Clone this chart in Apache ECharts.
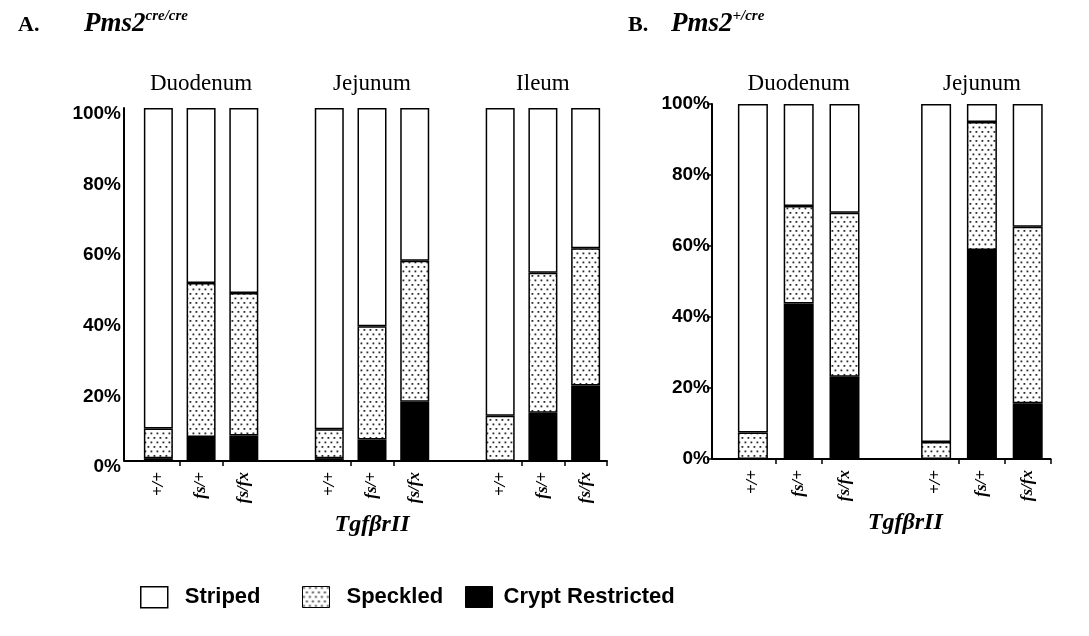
<!DOCTYPE html>
<html>
<head>
<meta charset="utf-8">
<script src="https://cdn.jsdelivr.net/npm/echarts@6/dist/echarts.min.js"></script>
<style>
  html, body { margin: 0; padding: 0; background: #fff; }
  #chart { width: 1089px; height: 636px; }
</style>
</head>
<body>
<div id="chart"></div>
<script>
// Tgfbr II genotypes per intestinal segment; '' marks the spacer between segments
const genotypesA = ['+/+', 'fs/+', 'fs/fx', '', '+/+', 'fs/+', 'fs/fx', '', '+/+', 'fs/+', 'fs/fx'];
const genotypesB = ['+/+', 'fs/+', 'fs/fx', '', '+/+', 'fs/+', 'fs/fx'];
const segmentsA = ['Duodenum', 'Jejunum', 'Ileum'];
const segmentsB = ['Duodenum', 'Jejunum'];

// Percent of crypts per phenotype, Pms2 cre/cre
const cryptA    = [0.8, 6.8, 7.2, '-', 0.8, 6.1, 16.8, '-', 0, 13.7, 21.4];
const speckledA = [8.4, 43.6, 40.4, '-', 8.2, 32.1, 39.9, '-', 12.8, 39.6, 38.9];
const stripedA  = [90.8, 49.6, 52.4, '-', 91.0, 61.8, 43.3, '-', 87.2, 46.7, 39.7];

// Percent of crypts per phenotype, Pms2 +/cre
const cryptB    = [0, 43.8, 23.2, '-', 0, 58.9, 15.7];
const speckledB = [7.5, 27.5, 46.2, '-', 4.8, 36.0, 49.7];
const stripedB  = [92.5, 28.7, 30.6, '-', 95.2, 5.1, 34.6];

const phenotypes = ['Striped', 'Speckled', 'Crypt Restricted'];

const yTicks = { min: 0, max: 100, interval: 20 };

const SERIF = 'Liberation Serif';
const SANS = 'Liberation Sans';

// dotted fill used for the "Speckled" phenotype
function speckle() {
  const c = document.createElement('canvas');
  c.width = 6; c.height = 9;
  const g = c.getContext('2d');
  g.fillStyle = '#fff';
  g.fillRect(0, 0, 6, 9);
  g.fillStyle = '#2a2a2a';
  g.fillRect(0.5, 0.5, 1.8, 1.8);
  g.fillRect(3.5, 5, 1.8, 1.8);
  return { image: c, repeat: 'repeat' };
}
const dots = speckle();

const fills = {
  'Striped': { color: '#fff', borderColor: '#000', borderWidth: 1.5 },
  'Speckled': { color: dots, borderColor: '#000', borderWidth: 1 },
  'Crypt Restricted': { color: '#000', borderColor: '#000', borderWidth: 1 }
};

// segment names sit above the middle bar of each group
function groupLabels(genotypes, segments) {
  return genotypes.map((_, i) => (i % 4 === 1 ? segments[(i - 1) / 4] : ''));
}

const gridA = { left: 137, top: 108, width: 470, height: 353 };
const gridB = { left: 730, top: 104, width: 320.6, height: 355 };
const yOffA = 13, yOffB = 18;

const edge = { color: '#000', width: 2 };

function bottomAxis(gridIndex, data, tickAt, name, namePad) {
  return {
    type: 'category', gridIndex, data, position: 'bottom',
    axisLine: { show: true, lineStyle: edge },
    axisTick: { show: true, length: 5, lineStyle: { color: '#000', width: 1.5 },
      interval: (i) => tickAt.includes(i) },
    axisLabel: { interval: 0, rotate: 90, margin: 11, color: '#000',
      fontFamily: SERIF, fontStyle: 'italic', fontWeight: 'bold', fontSize: 17 },
    name, nameLocation: 'middle', nameGap: 52,
    nameTextStyle: { fontFamily: SERIF, fontStyle: 'italic', fontWeight: 'bold',
      fontSize: 24, color: '#000', padding: namePad }
  };
}

function topAxis(gridIndex, data, margin) {
  return {
    type: 'category', gridIndex, data, position: 'top',
    axisLine: { show: false }, axisTick: { show: false },
    axisLabel: { interval: 0, margin, color: '#000', fontFamily: SERIF, fontSize: 23 }
  };
}

function valueAxis(gridIndex, offset, ticks, valign, lh) {
  return {
    type: 'value', gridIndex, offset, ...yTicks,
    axisLine: { show: true, lineStyle: edge },
    axisTick: { show: ticks, length: 5, lineStyle: { color: '#000', width: 1.5 } },
    splitLine: { show: false },
    axisLabel: { formatter: '{value}%', margin: ticks ? 2 : 3, color: '#000',
      fontFamily: SANS, fontWeight: 'bold', fontSize: 19,
      verticalAlign: valign, lineHeight: lh }
  };
}

function stack(idx, crypt, speckled, striped, width) {
  const base = { type: 'bar', xAxisIndex: idx * 2, yAxisIndex: idx, stack: 'p' + idx,
    barWidth: width, emphasis: { disabled: true } };
  const border = { borderColor: '#000', borderWidth: 1.5 };
  return [
    { ...base, name: phenotypes[2], data: crypt, itemStyle: { color: '#000', ...border } },
    { ...base, name: phenotypes[1], data: speckled, itemStyle: { color: dots, ...border } },
    { ...base, name: phenotypes[0], data: striped, itemStyle: { color: '#fff', ...border } }
  ];
}

// one legend entry per phenotype, laid out in a row under both panels
function legendItem(name, left, gap) {
  return {
    left, top: 581, icon: 'rect', itemWidth: 27, itemHeight: 21, selectedMode: false,
    textStyle: { fontFamily: SANS, fontWeight: 'bold', fontSize: 22, color: '#000', padding: [0, 0, 0, gap] },
    data: [{ name, itemStyle: fills[name] }]
  };
}

const chart = echarts.init(document.getElementById('chart'), null, { renderer: 'canvas' });

const titleRich = {
  p: { fontFamily: SERIF, fontStyle: 'italic', fontWeight: 'bold', fontSize: 27, color: '#000', lineHeight: 30 },
  s: { fontFamily: SERIF, fontStyle: 'italic', fontWeight: 'bold', fontSize: 15, color: '#000', verticalAlign: 'top' }
};
const headStyle = { fontFamily: SERIF, fontWeight: 'bold', fontSize: 22, color: '#000' };

chart.setOption({
  backgroundColor: '#fff',
  animation: false,
  title: [
    { text: 'A.', left: 13, top: 9, textStyle: headStyle },
    { text: '{p|Pms2}{s|cre/cre}', left: 79, top: 4, textStyle: { rich: titleRich } },
    { text: 'B.', left: 623, top: 9, textStyle: headStyle },
    { text: '{p|Pms2}{s|+/cre}', left: 666, top: 4, textStyle: { rich: titleRich } }
  ],
  legend: [
    legendItem(phenotypes[0], 135, 12),
    legendItem(phenotypes[1], 297, 12),
    legendItem(phenotypes[2], 460, 6)
  ],
  grid: [gridA, gridB],
  xAxis: [
    bottomAxis(0, genotypesA, [1, 2, 5, 6, 9, 10], 'TgfβrII', [0, 0, 0, 0]),
    topAxis(0, groupLabels(genotypesA, segmentsA), 13),
    bottomAxis(1, genotypesB, [1, 2, 5, 6], 'TgfβrII', [0, 0, 0, 30]),
    topAxis(1, groupLabels(genotypesB, segmentsB), 9)
  ],
  yAxis: [
    valueAxis(0, yOffA, false, 'top', 12),
    valueAxis(1, yOffB, true, 'middle', 20)
  ],
  series: [
    ...stack(0, cryptA, speckledA, stripedA, 29),
    ...stack(1, cryptB, speckledB, stripedB, 30)
  ],
  // x-axis line continues left to meet the offset y axis
  graphic: [
    { type: 'line', silent: true,
      shape: { x1: gridA.left - yOffA, y1: gridA.top + gridA.height, x2: gridA.left, y2: gridA.top + gridA.height },
      style: { stroke: '#000', lineWidth: 2 } },
    { type: 'line', silent: true,
      shape: { x1: gridB.left - yOffB, y1: gridB.top + gridB.height, x2: gridB.left, y2: gridB.top + gridB.height },
      style: { stroke: '#000', lineWidth: 2 } }
  ]
});
</script>
</body>
</html>
